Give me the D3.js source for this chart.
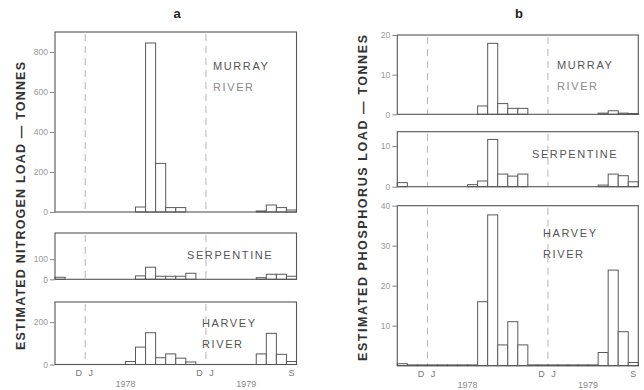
<!DOCTYPE html>
<html>

<head>
  <meta charset="UTF-8">
  <title>Nitrogen and phosphorus loads</title>
  <script src="https://d3js.org/d3.v7.min.js"></script>
  <style>
    body { margin: 0; background: #fff; }
    svg { display: block; font-family: "Liberation Sans", Arial, sans-serif; }
  </style>
</head>

<body>
  <svg></svg>
</body>

<script>
  let width = 644,
    height = 390;

  // months Oct 1977 .. Sep 1979
  let months = ["O77", "N77", "D77", "J78", "F78", "M78", "A78", "M78b", "J78b", "J78c", "A78b", "S78",
    "O78", "N78", "D78", "J79", "F79", "M79", "A79", "M79b", "J79b", "J79c", "A79b", "S79"];

  // nitrogen load (tonnes)
  let murrayN = [0, 0, 0, 0, 0, 0, 0, 0, 25, 845, 243, 22, 22, 0, 0, 0, 0, 0, 0, 0, 5, 35, 22, 10];
  let serpentineN = [10, 0, 0, 0, 0, 0, 0, 0, 17, 60, 15, 15, 15, 30, 0, 0, 0, 0, 0, 0, 8, 25, 25, 15];
  let harveyN = [0, 0, 0, 0, 0, 0, 0, 14, 82, 150, 32, 50, 30, 12, 0, 0, 0, 0, 0, 0, 50, 147, 48, 14];

  // phosphorus load (tonnes)
  let murrayP = [0, 0, 0, 0, 0, 0, 0, 0, 2.1, 17.9, 2.7, 1.5, 1.5, 0, 0, 0, 0, 0, 0, 0, 0.3, 0.9, 0.3, 0.2];
  let serpentineP = [1.0, 0, 0, 0, 0, 0, 0, 0.5, 1.4, 11.6, 3.1, 2.6, 3.1, 0, 0, 0, 0, 0, 0, 0, 0.4, 3.1, 2.7, 1.2];
  let harveyP = [0.5, 0.2, 0.2, 0.2, 0.2, 0.2, 0.2, 0.2, 16, 37.7, 5.2, 11, 5.2, 0.2, 0.2, 0.2, 0.2, 0.2, 0.2, 0.2, 3.3, 23.9, 8.5, 0.8];

  let nTicks = [[0, 200, 400, 600, 800], [0, 100], [0, 200]];
  let pTicks = [[0, 10, 20], [0, 10], [10, 20, 30, 40]];

  let svg = d3.select("svg")
    .attr("width", width)
    .attr("height", height)
    .attr("viewBox", "0 0 " + width + " " + height);

  function drawColumn(cfg) {
    let x = d3.scaleBand().domain(months).range([cfg.left, cfg.right]).padding(0);
    let g = svg.append("g");

    cfg.panels.forEach(p => {
      let y = d3.scaleLinear().domain([0, p.max]).range([p.base, p.top]);
      let pg = g.append("g");

      // dashed year boundaries (Dec/Jan)
      pg.selectAll("line.dj")
        .data([months[3], months[15]])
        .enter()
        .append("line")
        .attr("x1", d => x(d)).attr("x2", d => x(d))
        .attr("y1", p.top + 2).attr("y2", p.base)
        .attr("stroke", "#b5b5b5")
        .attr("stroke-width", 1)
        .attr("stroke-dasharray", "7,5");

      // bars
      pg.selectAll("rect")
        .data(p.values.map((v, i) => ({ m: months[i], v: v })).filter(d => d.v > 0))
        .enter()
        .append("rect")
        .attr("x", d => x(d.m))
        .attr("width", x.bandwidth())
        .attr("y", d => y(d.v))
        .attr("height", d => p.base - y(d.v))
        .attr("fill", "#fff")
        .attr("stroke", "#5a5a5a")
        .attr("stroke-width", 1);

      // frame
      pg.append("rect")
        .attr("x", cfg.left).attr("y", p.top)
        .attr("width", cfg.right - cfg.left).attr("height", p.base - p.top)
        .attr("fill", "none")
        .attr("stroke", "#555")
        .attr("stroke-width", 1.1);

      // y axis ticks
      let axis = d3.axisLeft(y).tickValues(p.ticks).tickSize(5).tickPadding(2).tickFormat(d3.format("d"));
      let ag = pg.append("g").attr("transform", "translate(" + cfg.left + ",0)").call(axis);
      ag.select(".domain").remove();
      ag.selectAll("line").attr("stroke", "#888");
      ag.selectAll("text").attr("fill", "#999").style("font-size", "8.5px");

      // river name
      p.name.forEach((t, i) => {
        pg.append("text")
          .attr("x", p.nx)
          .attr("y", p.ny + i * 20.5)
          .attr("fill", i == 1 && p.lightSecond ? "#8a8a8a" : "#555")
          .style("font-size", "11px")
          .style("letter-spacing", "1.6px")
          .text(t);
      });
    });

    // x labels
    let base = cfg.panels[2].base;
    let xl = g.append("g").attr("fill", "#777").style("font-size", "9px");
    xl.append("text").attr("x", x(months[3])).attr("y", base + 11).attr("text-anchor", "middle")
      .style("letter-spacing", "2px").text("D J");
    xl.append("text").attr("x", x(months[15])).attr("y", base + 11).attr("text-anchor", "middle")
      .style("letter-spacing", "2px").text("D J");
    xl.append("text").attr("x", x(months[23]) + x.bandwidth() / 2).attr("y", base + 11).attr("text-anchor", "middle").text("S");
    xl.append("text").attr("x", x(months[7])).attr("y", base + 22).attr("text-anchor", "middle").attr("fill", "#8a8a8a").text("1978");
    xl.append("text").attr("x", x(months[19])).attr("y", base + 22).attr("text-anchor", "middle").attr("fill", "#8a8a8a").text("1979");

    // panel letter
    svg.append("text")
      .attr("x", cfg.titleX).attr("y", 18)
      .attr("text-anchor", "middle")
      .attr("fill", "#222")
      .style("font-size", "13px")
      .style("font-weight", "bold")
      .text(cfg.title);

    // y axis title
    svg.append("text")
      .attr("transform", "translate(" + cfg.labelX + "," + cfg.labelY + ") rotate(-90)")
      .attr("text-anchor", "middle")
      .attr("fill", "#333")
      .style("font-size", "12.5px")
      .style("font-weight", "bold")
      .attr("textLength", cfg.labelLen)
      .attr("lengthAdjust", "spacing")
      .text(cfg.label);
  }

  drawColumn({
    left: 55, right: 296.5, title: "a", titleX: 177,
    label: "ESTIMATED NITROGEN LOAD — TONNES", labelX: 25, labelY: 206, labelLen: 288,
    panels: [
      { values: murrayN, ticks: nTicks[0], top: 32, base: 212, max: 900, name: ["MURRAY", "RIVER"], nx: 213, ny: 70, lightSecond: true },
      { values: serpentineN, ticks: nTicks[1], top: 233, base: 279.3, max: 230, name: ["SERPENTINE"], nx: 187, ny: 259 },
      { values: harveyN, ticks: nTicks[2], top: 302, base: 364.5, max: 295, name: ["HARVEY", "RIVER"], nx: 202, ny: 327 }
    ]
  });

  drawColumn({
    left: 397.3, right: 638.3, title: "b", titleX: 519,
    label: "ESTIMATED PHOSPHORUS LOAD — TONNES", labelX: 367, labelY: 198, labelLen: 326,
    panels: [
      { values: murrayP, ticks: pTicks[0], top: 35, base: 114.3, max: 20, name: ["MURRAY", "RIVER"], nx: 557, ny: 69, lightSecond: true },
      { values: serpentineP, ticks: pTicks[1], top: 131.7, base: 186.7, max: 13.5, name: ["SERPENTINE"], nx: 532, ny: 158 },
      { values: harveyP, ticks: pTicks[2], top: 205.7, base: 365.7, max: 40, name: ["HARVEY", "RIVER"], nx: 543, ny: 237 }
    ]
  });
</script>

</html>
